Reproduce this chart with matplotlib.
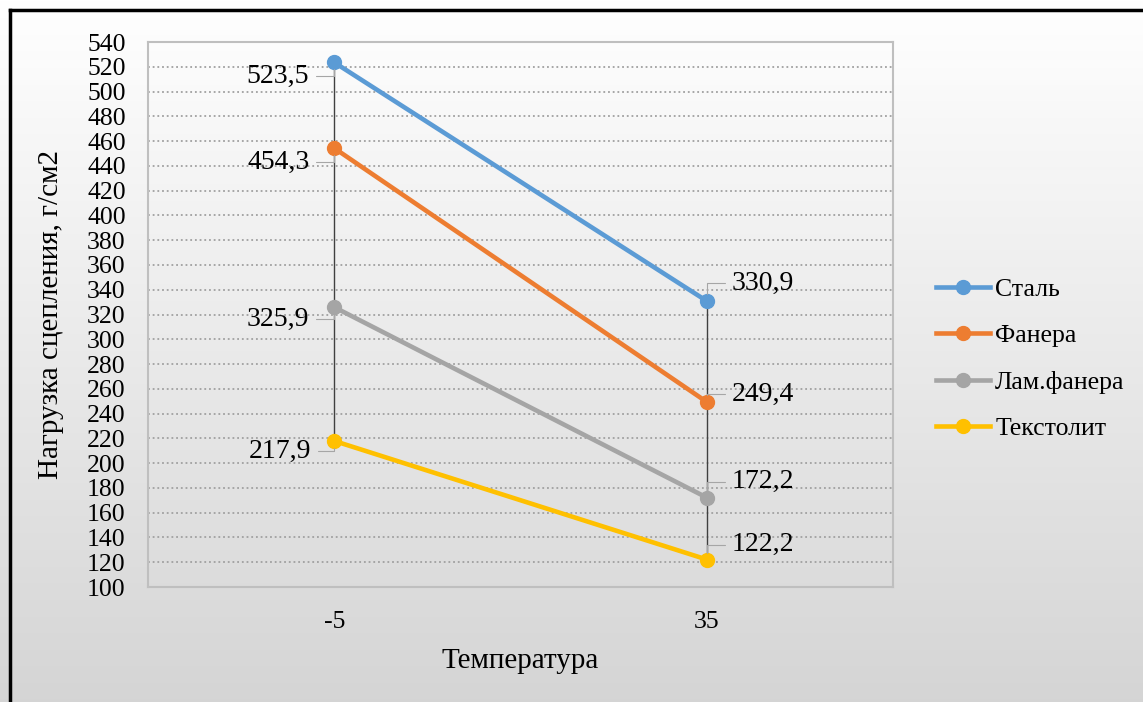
import numpy as np
import matplotlib
matplotlib.use("Agg")
import matplotlib.pyplot as plt
from matplotlib.lines import Line2D

plt.rcParams['font.family'] = ['Liberation Serif', 'DejaVu Serif']

# data
temperatures = ["-5", "35"]
series_names = ["Сталь", "Фанера", "Лам.фанера", "Текстолит"]
stal = [523.5, 330.9]
fanera = [454.3, 249.4]
lam_fanera = [325.9, 172.2]
tekstolit = [217.9, 122.2]
colors = ["#5B9BD5", "#ED7D31", "#A5A5A5", "#FFC000"]

all_series = [stal, fanera, lam_fanera, tekstolit]
# label offsets in pixels (left point, right point)
offsets_left = [(-25, -14), (-25, -14), (-25, -12), (-23, -10)]
offsets_right = [(25, 18), (25, 8), (25, 16), (25, 15)]

fig = plt.figure(figsize=(11.43, 7.02), dpi=100)

# background gradient
bg = fig.add_axes([0, 0, 1, 1], zorder=-10)
grad = np.linspace(1.0, 0.835, 256).reshape(-1, 1)
bg.imshow(np.dstack([grad, grad, grad]), aspect='auto', extent=[0, 1, 0, 1])
bg.set_axis_off()

# black frame top/left
fig.add_artist(Line2D([10/1143, 10/1143], [0, 1 - 10/702], color='black', lw=2.5, transform=fig.transFigure))
fig.add_artist(Line2D([10/1143, 1], [1 - 10/702, 1 - 10/702], color='black', lw=2.5, transform=fig.transFigure))

ax = fig.add_axes([148/1143, 1 - 587/702, (893 - 148)/1143, (587 - 42)/702])
ax.patch.set_alpha(0)
x = np.arange(len(temperatures))

ax.set_ylim(100, 540)
ax.set_xlim(-0.5, 1.5)
ax.set_yticks(np.arange(100, 541, 20))
ax.set_xticks(x)
ax.set_xticklabels(temperatures)
ax.yaxis.grid(True, color='#A0A0A0', linestyle=(0, (1, 1.6)), lw=1.3)
ax.tick_params(axis='both', length=0, labelsize=18.5, colors='#000000')
ax.tick_params(axis='y', pad=16)
ax.tick_params(axis='x', pad=17)
for s in ax.spines.values():
    s.set_color('#BFBFBF')
    s.set_linewidth(1.5)

# high-low lines
lows = np.min(all_series, axis=0)
highs = np.max(all_series, axis=0)
ax.vlines(x, lows, highs, color='#404040', lw=1, zorder=2)

for vals, name, c, ol, orr in zip(all_series, series_names, colors, offsets_left, offsets_right):
    ax.plot(x, vals, color=c, lw=3.3, marker='o', markersize=10, label=name, zorder=3)
    for xi, v, off, ha in [(0, vals[0], ol, 'right'), (1, vals[1], orr, 'left')]:
        ax.annotate(str(v).replace('.', ','), (xi, v), xytext=off, textcoords='offset pixels',
                    ha=ha, va='center', fontsize=20,
                    arrowprops=dict(arrowstyle='-', color='#A6A6A6', lw=0.8,
                                    connectionstyle='angle,angleA=0,angleB=90,rad=0',
                                    shrinkA=3, shrinkB=5))

ax.set_xlabel("Температура", fontsize=21, labelpad=11)
ax.set_ylabel("Нагрузка сцепления, г/см2", fontsize=21, labelpad=17)

fig.legend(loc='center left', bbox_to_anchor=(913/1143, 1 - 359/702), frameon=False,
           fontsize=18.5, handlelength=2.1, labelspacing=0.9, handletextpad=0.2)

fig.savefig("out.png", dpi=100)
